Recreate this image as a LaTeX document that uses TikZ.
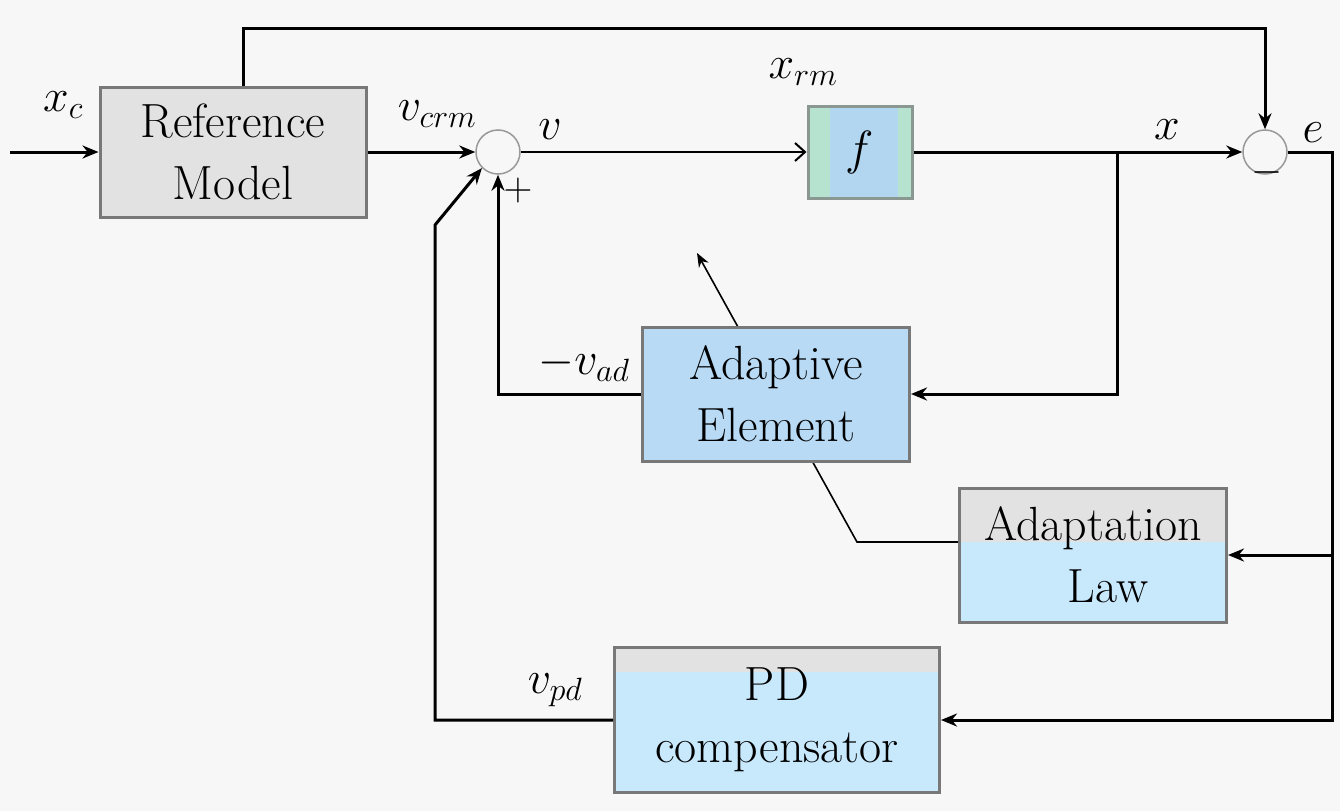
\RequirePackage{fix-cm}
\documentclass[tikz,border=0pt]{standalone}
\usetikzlibrary{arrows.meta}
\definecolor{bg}{HTML}{F7F7F7}
\definecolor{boxgray}{HTML}{E2E2E2}
\definecolor{boxblue}{HTML}{C8E8FC}
\definecolor{aeblue}{HTML}{B8DAF5}
\definecolor{fblue}{HTML}{B2D5F0}
\definecolor{fgreen}{HTML}{B6E3D0}
\definecolor{edge}{HTML}{787878}
\begin{document}
\begin{tikzpicture}[x=1pt,y=-1pt,
  blk/.style={draw=edge, line width=3pt, inner sep=0pt, align=center,
    font=\fontsize{48}{62}\selectfont},
  sig/.style={line width=3pt, -{Stealth[length=16pt,width=13pt]}},
  thinsig/.style={line width=2pt, -{Straight Barb[length=10pt,width=18pt]}},
  adapt/.style={line width=1.6pt, -{Stealth[length=14pt,width=11pt]}},
  lab/.style={inner sep=0pt, font=\fontsize{46}{50}\selectfont},
  sumj/.style={circle, draw=gray!80, line width=1.5pt, minimum size=44pt, inner sep=0pt}]
\fill[bg] (0,0) rectangle (1340,811);
\useasboundingbox (0,0) rectangle (1340,811);

% blocks
\node[blk, fill=boxgray, minimum width=266pt, minimum height=130pt] (rm) at (233,152) {Reference\\Model};
\node[blk, draw=edge!70!fgreen, fill=fblue, minimum width=104pt, minimum height=92pt,
  path picture={\fill[fgreen] (path picture bounding box.north west) rectangle ([xshift=22pt]path picture bounding box.south west);
                \fill[fgreen] ([xshift=-14pt]path picture bounding box.north east) rectangle (path picture bounding box.south east);}]
  (f) at (860,152) {$f$};
\node[blk, fill=boxblue, minimum width=267pt, minimum height=134pt,
  path picture={\fill[boxgray] (path picture bounding box.north west) rectangle ([yshift=-54pt]path picture bounding box.north east);}]
  (al) at (1093,555) {Adaptation\\\hspace*{30pt}Law};
\node[blk, fill=boxblue, minimum width=325pt, minimum height=145pt,
  path picture={\fill[boxgray] (path picture bounding box.north west) rectangle ([yshift=-24pt]path picture bounding box.north east);}]
  (pd) at (777,720) {PD\\compensator};

% adaptation signal (behind the adaptive element)
\coordinate (a1) at (857,542);
\coordinate (a2) at (697,253);
\draw[adapt] (al.west |- a1) -- (a1) -- (a2);

\node[blk, fill=aeblue, minimum width=267pt, minimum height=134pt] (ae) at (776,394) {Adaptive\\Element};

% summing junctions
\node[sumj] (s1) at (498,152) {};
\node[sumj] (s2) at (1265,152) {};

% helper coordinates
\coordinate (in) at (10,152);
\coordinate (t1) at (243,28);
\coordinate (bx) at (1117,152);
\coordinate (er) at (1332,152);
\coordinate (p1) at (435,225);

% connectors
\draw[sig] (in) -- (rm.west);
\draw[sig] (rm.east) -- (s1.west);
\draw[thinsig] (s1.east) -- (f.west);
\draw[sig] (f.east) -- (s2.west);
\draw[sig] (t1 |- rm.north) -- (t1) -| (s2.north);
\draw[sig] (bx) |- (ae.east);
\draw[sig] (s2.east) -- (er) |- (pd.east);
\draw[sig] (er |- al.east) -- (al.east);
\draw[sig] (pd.west) -| (p1) -- (s1.south west);
\draw[sig] (ae.west) -| (s1.south);

% labels
\node[lab] (lxc) at (63,105) {$x_c$};
\node[lab] (lvcrm) at (437,114) {$v_{crm}$};
\node[lab] (lv) at (550,130) {$v$};
\node[lab] (lxrm) at (803,72) {$x_{rm}$};
\node[lab] (lx) at (1167,130) {$x$};
\node[lab] (le) at (1313,133) {$e$};
\node[lab] (lvad) at (584,365) {$-v_{ad}$};
\node[lab] (lvpd) at (555,690) {$v_{pd}$};
\node[lab, font=\fontsize{40}{40}\selectfont] (plus) at (518,190) {$+$};
\node[lab, font=\fontsize{40}{40}\selectfont] (minus) at (1267,172) {$-$};
\end{tikzpicture}
\end{document}
